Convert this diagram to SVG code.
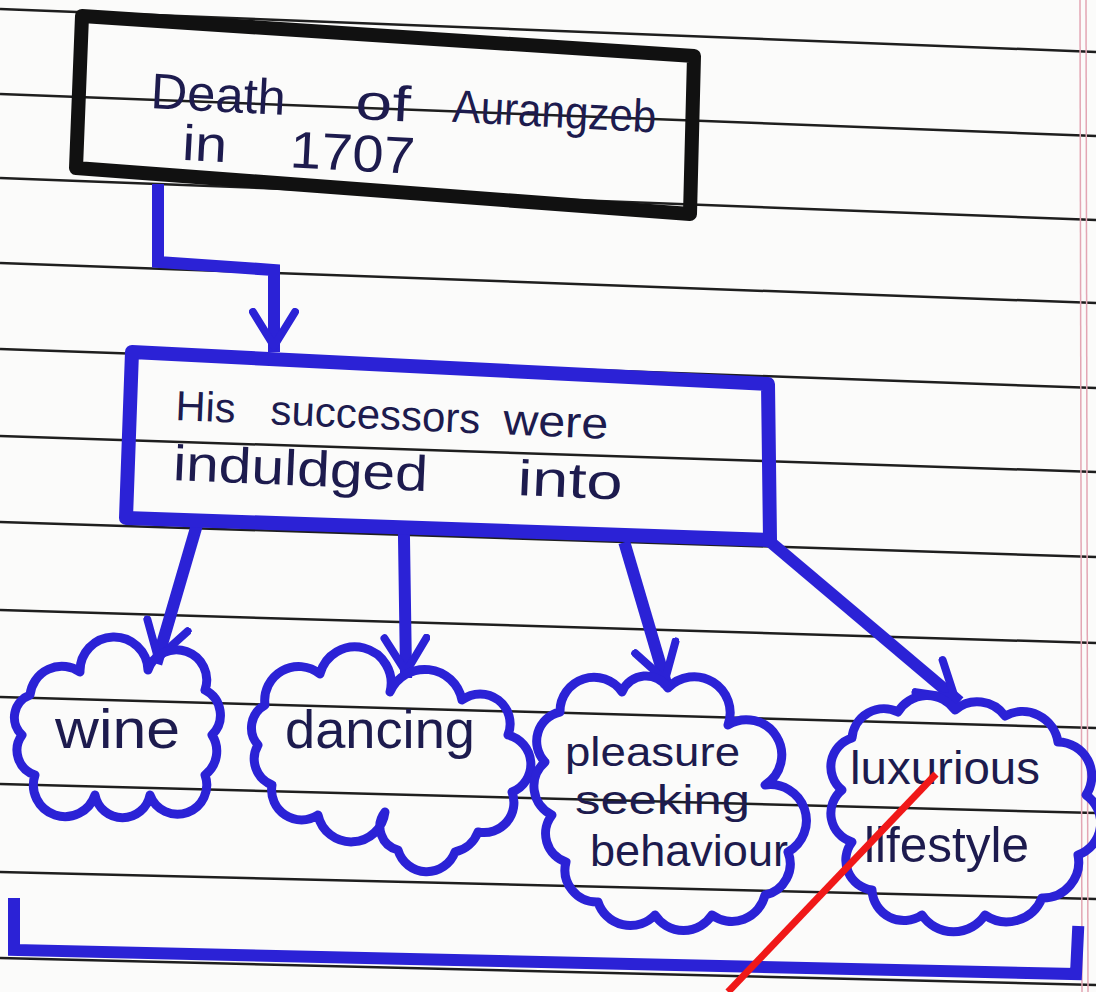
<svg xmlns="http://www.w3.org/2000/svg" width="1096" height="992" viewBox="0 0 1096 992">
<defs>
<style>
.rule{stroke:#1e1e1e;stroke-width:2.5;fill:none}
.margin{stroke:#e3a6b4;stroke-width:1.5;fill:none}
.box1{fill:none;stroke:#111;stroke-width:14;stroke-linejoin:round}
.box2{fill:none;stroke:#2b22d6;stroke-width:14;stroke-linejoin:round}
.cloud{fill:none;stroke:#2b22d6;stroke-width:9;stroke-linejoin:round}
.conn{fill:none;stroke:#2b22d6;stroke-width:12;stroke-linecap:square;stroke-linejoin:miter}
.ink{font-family:"Liberation Sans","DejaVu Sans",sans-serif;fill:#1d1b4e}
</style>
<marker id="vh" viewBox="0 0 44 50" refX="38" refY="25" markerWidth="44" markerHeight="50" markerUnits="userSpaceOnUse" orient="auto">
<path d="M4,4 L38,25 L4,46" fill="none" stroke="#2b22d6" stroke-width="8" stroke-linecap="round" stroke-linejoin="round"/>
</marker>
</defs>
<rect width="1096" height="992" fill="#fbfbfa"/>
<g id="paper">
<path class="rule" d="M0,9 L1096,52"/>
<path class="rule" d="M0,94 L1096,136"/>
<path class="rule" d="M0,178 L1096,220"/>
<path class="rule" d="M0,263 L1096,303"/>
<path class="rule" d="M0,349 L1096,388"/>
<path class="rule" d="M0,436 L1096,472"/>
<path class="rule" d="M0,522 L1096,557"/>
<path class="rule" d="M0,610 L1096,643"/>
<path class="rule" d="M0,697 L1096,728"/>
<path class="rule" d="M0,784 L1096,813"/>
<path class="rule" d="M0,872 L1096,899"/>
<path class="rule" d="M0,958 L1096,985"/>
<path class="margin" d="M1080,0 L1082,992"/>
<path class="margin" d="M1086,0 L1088,992"/>
</g>
<g id="connectors">
<path class="conn" d="M158,190 L158,262 L274,270 L274,346" marker-end="url(#vh)"/>
<path class="conn" d="M196,528 L158,658" marker-end="url(#vh)"/>
<path class="conn" d="M404,538 L406,672" marker-end="url(#vh)"/>
<path class="conn" d="M626,548 L665,680" marker-end="url(#vh)"/>
<path class="conn" d="M768,540 L955,698" marker-end="url(#vh)"/>
</g>
<g id="n1">
<path class="box1" d="M82,16 L694,56 L690,214 L76,168 Z"/>
<g transform="rotate(3 150 110)">
<text class="ink" font-size="50" x="150" y="108" textLength="135" lengthAdjust="spacingAndGlyphs">Death</text>
<text class="ink" font-size="50" x="355" y="108" textLength="55" lengthAdjust="spacingAndGlyphs">of</text>
<text class="ink" font-size="46" x="452" y="106" textLength="204" lengthAdjust="spacingAndGlyphs">Aurangzeb</text>
<text class="ink" font-size="50" x="184" y="158" textLength="45" lengthAdjust="spacingAndGlyphs">in</text>
<text class="ink" font-size="52" x="292" y="160" textLength="125" lengthAdjust="spacingAndGlyphs">1707</text>
</g>
</g>
<g id="n2">
<path class="box2" d="M132,352 L768,384 L770,540 L126,518 Z"/>
<g transform="rotate(2.5 175 420)">
<text class="ink" font-size="42" x="175" y="420" textLength="60" lengthAdjust="spacingAndGlyphs">His</text>
<text class="ink" font-size="42" x="270" y="420" textLength="210" lengthAdjust="spacingAndGlyphs">successors</text>
<text class="ink" font-size="44" x="503" y="420" textLength="105" lengthAdjust="spacingAndGlyphs">were</text>
<text class="ink" font-size="50" x="175" y="480" textLength="255" lengthAdjust="spacingAndGlyphs">induldged</text>
<text class="ink" font-size="50" x="520" y="480" textLength="105" lengthAdjust="spacingAndGlyphs">into</text>
</g>
</g>
<g id="n3">
<path class="cloud" d="M30,695 A32,32 0 0 1 80,672 A34,34 0 0 1 148,670 A30,30 0 0 1 205,690 A28,28 0 0 1 212,735 A30,30 0 0 1 205,775 A28,28 0 0 1 150,795 A28,28 0 0 1 95,795 A30,30 0 0 1 35,775 A26,26 0 0 1 22,735 A24,24 0 0 1 30,695 Z"/>
<text class="ink" font-size="56" x="55" y="748" textLength="125" lengthAdjust="spacingAndGlyphs">wine</text>
</g>
<g id="n4">
<path class="cloud" d="M265,705 A34,34 0 0 1 320,674 A36,36 0 0 1 390,692 A38,38 0 0 1 462,700 A30,30 0 0 1 508,735 A30,30 0 0 1 512,792 A30,30 0 0 1 478,832 A32,32 0 0 1 455,852 A30,30 0 0 1 398,850 A24,24 0 0 1 385,812 A34,34 0 0 1 318,815 A30,30 0 0 1 272,785 A28,28 0 0 1 258,745 A26,26 0 0 1 265,705 Z"/>
<text class="ink" font-size="54" x="285" y="748" textLength="190" lengthAdjust="spacingAndGlyphs">dancing</text>
</g>
<g id="n5">
<path class="cloud" d="M560,712 A34,34 0 0 1 622,692 A26,26 0 0 1 668,688 A36,36 0 0 1 728,725 A34,34 0 0 1 765,785 A36,36 0 0 1 788,852 A32,32 0 0 1 765,895 A34,34 0 0 1 712,915 A34,34 0 0 1 655,915 A34,34 0 0 1 598,902 A32,32 0 0 1 566,862 A30,30 0 0 1 552,815 A32,32 0 0 1 545,762 A30,30 0 0 1 560,712 Z"/>
<text class="ink" font-size="40" x="565" y="766" textLength="175" lengthAdjust="spacingAndGlyphs">pleasure</text>
<text class="ink" font-size="40" x="575" y="814" textLength="175" lengthAdjust="spacingAndGlyphs">seeking</text>
<text class="ink" font-size="45" x="590" y="866" textLength="198" lengthAdjust="spacingAndGlyphs">behaviour</text>
</g>
<g id="n6">
<path class="cloud" d="M852,738 A32,32 0 0 1 898,712 A34,34 0 0 1 955,710 A34,34 0 0 1 1005,716 A36,36 0 0 1 1058,742 A34,34 0 0 1 1086,795 A34,34 0 0 1 1078,855 A36,36 0 0 1 1042,898 A38,38 0 0 1 985,915 A38,38 0 0 1 922,915 A32,32 0 0 1 872,890 A30,30 0 0 1 852,842 A30,30 0 0 1 842,790 A30,30 0 0 1 852,738 Z"/>
<text class="ink" font-size="46" x="850" y="784" textLength="190" lengthAdjust="spacingAndGlyphs">luxurious</text>
<text class="ink" font-size="50" x="864" y="862" textLength="165" lengthAdjust="spacingAndGlyphs">lifestyle</text>
</g>
<g id="bracket">
<path class="conn" d="M14,904 L14,950 L1076,974 L1078,932" stroke-width="10"/>
</g>
<path d="M936,774 L728,992" stroke="#f01818" stroke-width="7" fill="none"/>
</svg>
